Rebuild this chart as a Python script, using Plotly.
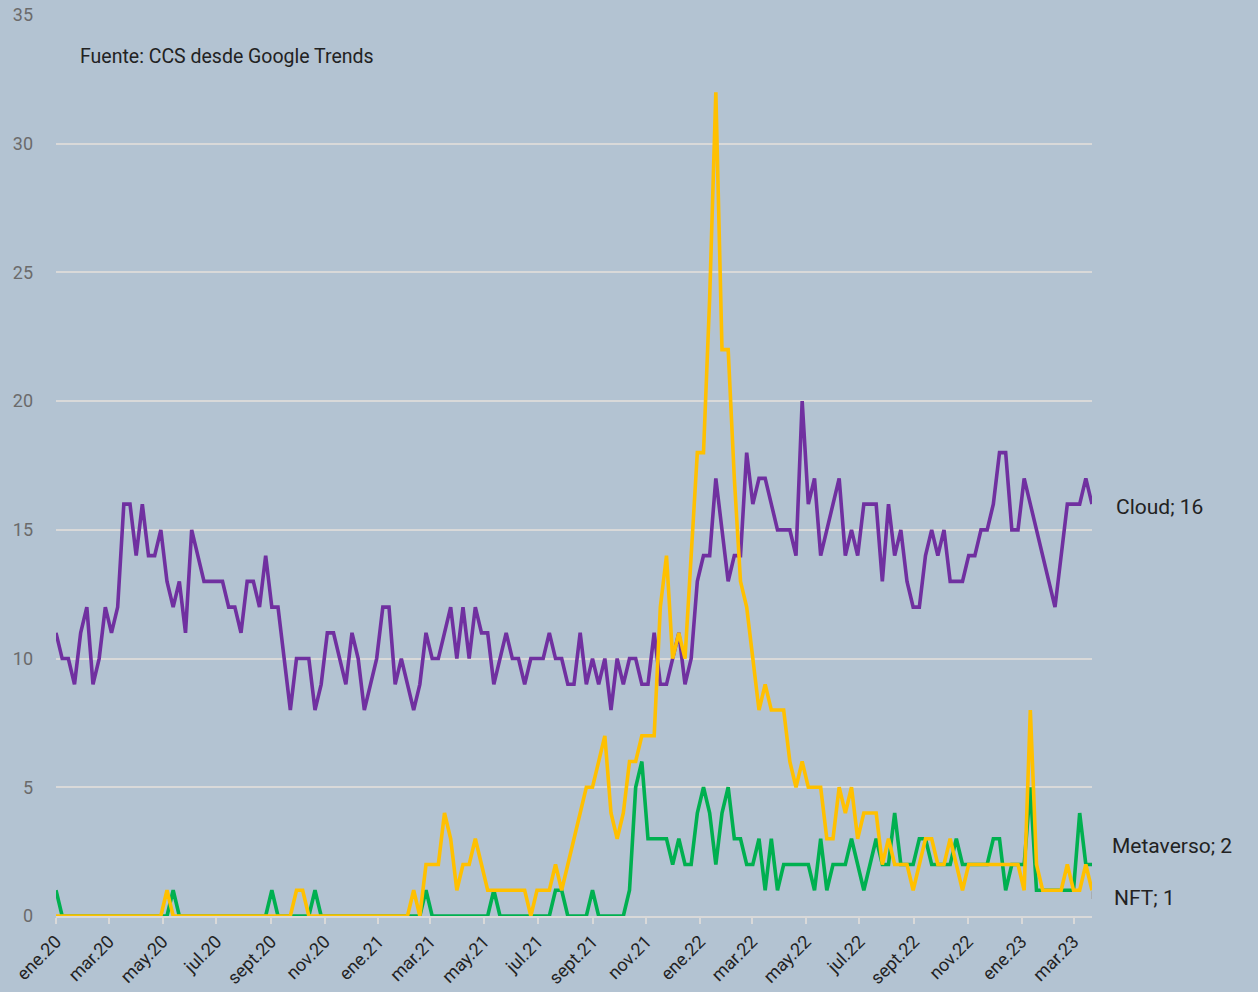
import pandas as pd
import plotly.graph_objects as go

# Weekly dates (Google Trends weeks)
dates = pd.date_range("2020-01-05", periods=169, freq="7D")

cloud = [11,10,10,9,11,12,9,10,12,11,
         12,16,16,14,16,14,14,15,13,12,
         13,11,15,14,13,13,13,13,12,12,
         11,13,13,12,14,12,12,10,8,10,
         10,10,8,9,11,11,10,9,11,10,
         8,9,10,12,12,9,10,9,8,9,
         11,10,10,11,12,10,12,10,12,11,
         11,9,10,11,10,10,9,10,10,10,
         11,10,10,9,9,11,9,10,9,10,
         8,10,9,10,10,9,9,11,9,9,
         10,11,9,10,13,14,14,17,15,13,
         14,14,18,16,17,17,16,15,15,15,
         14,20,16,17,14,15,16,17,14,15,
         14,16,16,16,13,16,14,15,13,12,
         12,14,15,14,15,13,13,13,14,14,
         15,15,16,18,18,15,15,17,16,15,
         14,13,12,14,16,16,16,17,16]

metaverso = [1,0,0,0,0,0,0,0,0,0,
             0,0,0,0,0,0,0,0,0,1,
             0,0,0,0,0,0,0,0,0,0,
             0,0,0,0,0,1,0,0,0,0,
             0,0,1,0,0,0,0,0,0,0,
             0,0,0,0,0,0,0,0,0,0,
             1,0,0,0,0,0,0,0,0,0,
             0,1,0,0,0,0,0,0,0,0,
             0,1,1,0,0,0,0,1,0,0,
             0,0,0,1,5,6,3,3,3,3,
             2,3,2,2,4,5,4,2,4,5,
             3,3,2,2,3,1,3,1,2,2,
             2,2,2,1,3,1,2,2,2,3,
             2,1,2,3,2,2,4,2,2,2,
             3,3,2,2,2,2,3,2,2,2,
             2,2,3,3,1,2,2,2,5,1,
             1,1,1,1,1,1,4,2,2]

nft = [0,0,0,0,0,0,0,0,0,0,
       0,0,0,0,0,0,0,0,1,0,
       0,0,0,0,0,0,0,0,0,0,
       0,0,0,0,0,0,0,0,0,1,
       1,0,0,0,0,0,0,0,0,0,
       0,0,0,0,0,0,0,0,1,0,
       2,2,2,4,3,1,2,2,3,2,
       1,1,1,1,1,1,1,0,1,1,
       1,2,1,2,3,4,5,5,6,7,
       4,3,4,6,6,7,7,7,12,14,
       10,11,10,14,18,18,24,32,22,22,
       17,13,12,10,8,9,8,8,8,6,
       5,6,5,5,5,3,3,5,4,5,
       3,4,4,4,2,3,2,2,2,1,
       2,3,3,2,2,3,2,1,2,2,
       2,2,2,2,2,2,2,1,8,2,
       1,1,1,1,2,1,1,2,1]

tick_dates = pd.date_range("2020-01-05", periods=20, freq=pd.DateOffset(months=2))
tick_labels = ["ene.20", "mar.20", "may.20", "jul.20", "sept.20", "nov.20",
               "ene.21", "mar.21", "may.21", "jul.21", "sept.21", "nov.21",
               "ene.22", "mar.22", "may.22", "jul.22", "sept.22", "nov.22",
               "ene.23", "mar.23"]

FONT = "Roboto, Liberation Sans Narrow, sans-serif"
BG = "#B3C3D2"
GRID = "#D9D9D9"
TXT = "#222222"

fig = go.Figure()
fig.add_trace(go.Scatter(x=dates, y=metaverso, mode="lines", name="Metaverso",
                         line=dict(color="#00B050", width=3.6)))
fig.add_trace(go.Scatter(x=dates, y=cloud, mode="lines", name="Cloud",
                         line=dict(color="#7030A0", width=3.6)))
fig.add_trace(go.Scatter(x=dates, y=nft, mode="lines", name="NFT",
                         line=dict(color="#FFC000", width=3.6)))

last = dates[-1]
annotations = [
    dict(x=0.0217, y=0.954, xref="paper", yref="paper", xanchor="left", yanchor="middle",
         text="Fuente: CCS desde Google Trends", showarrow=False,
         font=dict(family=FONT, size=19.5, color=TXT)),
    dict(x=last, y=cloud[-1], xref="x", yref="y", xanchor="left", yanchor="middle",
         xshift=22, yshift=-3, text=f"Cloud; {cloud[-1]}", showarrow=False,
         font=dict(family=FONT, size=21, color=TXT)),
    dict(x=last, y=metaverso[-1], xref="x", yref="y", xanchor="left", yanchor="middle",
         xshift=18, yshift=19, text=f"Metaverso; {metaverso[-1]}", showarrow=False,
         font=dict(family=FONT, size=21, color=TXT)),
    dict(x=last, y=nft[-1], xref="x", yref="y", xanchor="left", yanchor="middle",
         xshift=20, yshift=-8, text=f"NFT; {nft[-1]}", showarrow=False,
         font=dict(family=FONT, size=21, color=TXT)),
]

shapes = [
    dict(type="path", xref="x", yref="y", xsizemode="pixel", ysizemode="pixel",
         xanchor=last, yanchor=nft[-1], path="M 0 -1 L 0 -8 L 13 -8",
         line=dict(color="#A6A6A6", width=1.5)),
]

fig.update_layout(
    width=1258, height=992,
    margin=dict(l=55.5, r=165.7, t=15, b=76, autoexpand=False),
    paper_bgcolor=BG, plot_bgcolor=BG,
    showlegend=False,
    annotations=annotations,
    shapes=shapes,
    xaxis=dict(
        type="date", automargin=False,
        range=[dates[0], dates[-1]],
        tickvals=tick_dates, ticktext=tick_labels,
        tickangle=-45,
        tickfont=dict(family=FONT, size=18, color=TXT),
        showgrid=False, showline=True, linecolor=GRID, linewidth=2,
        ticks="outside", ticklen=6, tickcolor=GRID, tickwidth=1.5,
        zeroline=False,
    ),
    yaxis=dict(
        automargin=False,
        range=[0, 35], tickvals=[0, 5, 10, 15, 20, 25, 30, 35],
        tickfont=dict(family=FONT, size=18, color="#6B6B6B"),
        showgrid=True, gridcolor=GRID, gridwidth=1.75,
        zeroline=False, showline=False, ticks="",
        ticklabelstandoff=22,
    ),
)

fig.write_html(
    "out.html",
    config={"displayModeBar": False},
    post_script=f"document.body.style.margin='0';document.body.style.background='{BG}';"
                "document.body.style.overflow='hidden';",
)
